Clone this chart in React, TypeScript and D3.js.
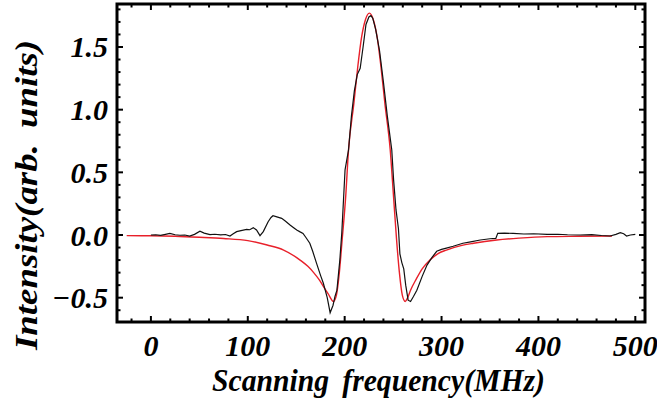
import React, { useRef, useEffect } from 'react';
import * as d3 from 'd3';

// measured trace (frequency MHz, intensity)
const measuredFreq = [0, 5, 10, 15, 19.6, 25, 30, 35, 40, 45, 50.6, 55, 61, 66, 72, 77, 81.6, 85, 88.5, 93, 98.8, 102, 105.7, 109, 112.6, 116, 121, 124, 126, 130, 135, 139, 143.6, 147, 150.5, 154, 157, 160, 164, 167, 171, 175, 178, 182, 185, 188, 190, 192, 195, 197, 200.4, 204, 207, 210, 213, 216, 219, 222, 225, 227, 229, 232, 236, 240, 244, 248.6, 250.5, 253, 255.5, 257, 259, 261, 263, 265.5, 268, 271, 274.5, 280, 285, 290, 295, 300, 305, 312, 322, 330, 340, 350, 356, 358, 365, 374, 385, 395, 409, 420, 430, 443, 455, 465, 474, 480, 484.5, 488, 491, 495, 500];
const measuredVal = [0, 0.002, -0.003, 0.005, 0.013, 0.002, -0.002, 0, -0.008, 0.005, 0.03, 0.015, 0.003, 0.006, 0.001, 0.004, -0.008, 0.01, 0.027, 0.035, 0.045, 0.042, 0.058, 0.04, -0.005, 0.027, 0.106, 0.14, 0.154, 0.145, 0.133, 0.11, 0.08, 0.06, 0.04, 0.025, 0.013, -0.02, -0.066, -0.13, -0.226, -0.32, -0.385, -0.5, -0.62, -0.56, -0.49, -0.44, -0.2, 0.013, 0.52, 0.68, 0.95, 1.15, 1.28, 1.33, 1.5, 1.68, 1.74, 1.75, 1.73, 1.64, 1.47, 1.22, 0.95, 0.68, 0.44, 0.2, 0.05, -0.15, -0.22, -0.27, -0.4, -0.52, -0.53, -0.49, -0.44, -0.33, -0.24, -0.18, -0.13, -0.115, -0.105, -0.09, -0.066, -0.055, -0.04, -0.03, -0.027, 0.013, 0.015, 0.013, 0.008, 0.01, 0.005, 0.006, 0.002, 0, 0.003, -0.004, -0.008, 0.005, 0.018, 0.01, -0.008, 0, 0.005];

// fitted curve
const fitFreq = [-25, 0, 25, 50, 75, 100, 120, 137, 154, 162, 168, 174, 178, 183, 188.5, 191.5, 194.5, 197.5, 201, 204, 209.5, 213.5, 217.5, 221.5, 225.5, 229.5, 233.5, 237.5, 241.5, 247, 250.5, 253.5, 256.5, 259.5, 262.5, 265, 268, 274, 280, 288, 296, 305, 320, 333, 357, 380, 409, 440, 476];
const fitVal = [-0.005, -0.006, -0.01, -0.018, -0.028, -0.045, -0.08, -0.12, -0.2, -0.25, -0.3, -0.36, -0.41, -0.47, -0.53, -0.48, -0.3, -0.03, 0.3, 0.68, 1.05, 1.34, 1.58, 1.72, 1.77, 1.72, 1.58, 1.34, 1.05, 0.68, 0.3, -0.03, -0.3, -0.48, -0.53, -0.5, -0.44, -0.35, -0.27, -0.2, -0.15, -0.12, -0.085, -0.066, -0.04, -0.025, -0.013, -0.01, -0.008];

const xTicks = [0, 100, 200, 300, 400, 500];
const yTicks = [-0.5, 0, 0.5, 1.0, 1.5];
const yTickLabels = ['\u22120.5', '0.0', '0.5', '1.0', '1.5'];

const App = () => {
  const svgRef = useRef(null);
  const W = 657;
  const H = 404;
  const frame = { left: 117, right: 645, top: 4, bottom: 322 };

  useEffect(() => {
    const svg = d3.select(svgRef.current);
    svg.selectAll('*').remove();

    const x = d3.scaleLinear().domain([-35, 510]).range([frame.left, frame.right]);
    const y = d3.scaleLinear().domain([-0.694, 1.843]).range([frame.bottom, frame.top]);

    const font = 'Liberation Serif, Tinos, serif';

    // clip for curves
    svg.append('clipPath').attr('id', 'plotclip')
      .append('rect')
      .attr('x', frame.left).attr('y', frame.top)
      .attr('width', frame.right - frame.left).attr('height', frame.bottom - frame.top);

    const g = svg.append('g').attr('clip-path', 'url(#plotclip)');

    const fitLine = d3.line<number>()
      .x((d, i) => x(fitFreq[i]))
      .y(d => y(d))
      .curve(d3.curveMonotoneX);
    g.append('path')
      .attr('d', fitLine(fitVal))
      .attr('fill', 'none')
      .attr('stroke', '#e8202a')
      .attr('stroke-width', 1.4);

    const measLine = d3.line<number>()
      .x((d, i) => x(measuredFreq[i]))
      .y(d => y(d));
    g.append('path')
      .attr('d', measLine(measuredVal))
      .attr('fill', 'none')
      .attr('stroke', '#111')
      .attr('stroke-width', 1.2);

    // ticks on all four sides
    const ticks = svg.append('g').attr('stroke', '#000').attr('stroke-width', 2);
    const minorX = d3.range(-20, 511, 20);
    minorX.forEach(v => {
      const major = v % 100 === 0;
      const len = major ? 6 : 3.5;
      ticks.append('line').attr('x1', x(v)).attr('x2', x(v)).attr('y1', frame.bottom).attr('y2', frame.bottom - len);
      ticks.append('line').attr('x1', x(v)).attr('x2', x(v)).attr('y1', frame.top).attr('y2', frame.top + len);
    });
    const minorY = d3.range(-6, 19).map(k => k / 10);
    minorY.forEach(v => {
      const major = Math.abs(Math.round(v * 10) % 5) === 0;
      const len = major ? 6 : 3.5;
      ticks.append('line').attr('y1', y(v)).attr('y2', y(v)).attr('x1', frame.left).attr('x2', frame.left + len);
      ticks.append('line').attr('y1', y(v)).attr('y2', y(v)).attr('x1', frame.right).attr('x2', frame.right - len);
    });

    // frame
    svg.append('rect')
      .attr('x', frame.left).attr('y', frame.top)
      .attr('width', frame.right - frame.left).attr('height', frame.bottom - frame.top)
      .attr('fill', 'none').attr('stroke', '#000').attr('stroke-width', 3);

    // tick labels
    svg.append('g').selectAll('text').data(xTicks).join('text')
      .attr('x', d => x(d))
      .attr('y', 356)
      .attr('text-anchor', 'middle')
      .attr('font-family', font).attr('font-size', 30)
      .attr('font-weight', 'bold').attr('font-style', 'italic')
      .text(d => String(d));

    svg.append('g').selectAll('text').data(yTicks).join('text')
      .attr('x', 108)
      .attr('y', d => y(d))
      .attr('dy', '0.35em')
      .attr('text-anchor', 'end')
      .attr('font-family', font).attr('font-size', 30)
      .attr('font-weight', 'bold').attr('font-style', 'italic')
      .text((d, i) => yTickLabels[i]);

    // axis titles
    svg.append('text')
      .attr('x', 212).attr('y', 391)
      .attr('textLength', 333)
      .attr('lengthAdjust', 'spacingAndGlyphs')
      .attr('font-family', font).attr('font-size', 31)
      .attr('font-weight', 'bold').attr('font-style', 'italic')
      .attr('word-spacing', 6)
      .text('Scanning frequency(MHz)');

    svg.append('text')
      .attr('transform', 'translate(37,350) rotate(-90)')
      .attr('textLength', 310)
      .attr('lengthAdjust', 'spacingAndGlyphs')
      .attr('font-family', font).attr('font-size', 32)
      .attr('font-weight', 'bold').attr('font-style', 'italic')
      .attr('word-spacing', 6)
      .text('Intensity(arb. units)');
  }, []);

  return (
    <svg ref={svgRef} width={W} height={H}
      style={{ position: 'absolute', left: 0, top: 0, background: '#fff' }} />
  );
};

export default App;
